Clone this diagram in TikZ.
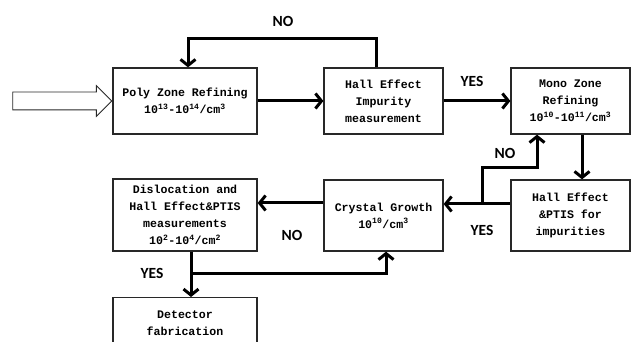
\documentclass[tikz,border=0pt]{standalone}
\usepackage{fontspec}
\usetikzlibrary{shapes, arrows.meta, positioning, calc}
\newfontfamily\boxfont{Liberation Mono}
\newfontfamily\labelfont{Carlito}
\definecolor{linegray}{RGB}{40, 40, 40}

\begin{document}
\begin{tikzpicture}[x=1pt, y=-1pt,
    stepbox/.style={draw=linegray, line width=1.3pt, align=center, inner sep=2pt,
      font=\boxfont\bfseries\fontsize{11.6}{17}\selectfont},
    flow/.style={line width=3pt, -{Straight Barb[length=6pt, width=15pt]}},
    answer/.style={font=\labelfont\bfseries\fontsize{15.5}{17}\selectfont}]
  \clip (0,0) rectangle (633,342);
  \fill[white] (0,0) rectangle (633,342);

  % Top row
  \node[stepbox, minimum width=144, minimum height=66] (poly) at (185, 101)
    {Poly Zone Refining\\10\textsuperscript{13}-10\textsuperscript{14}/cm\textsuperscript{3}};
  \node[stepbox, minimum width=119, minimum height=66] (hall) at (383.5, 101)
    {Hall Effect\\Impurity\\measurement};
  \node[stepbox, minimum width=119, minimum height=66] (mono) at (570.5, 101)
    {Mono Zone\\Refining\\10\textsuperscript{10}-10\textsuperscript{11}/cm\textsuperscript{3}};

  % Middle row
  \node[stepbox, minimum width=119, minimum height=71] (ptis) at (570.5, 215.5)
    {Hall Effect\\\&PTIS for\\impurities};
  \node[stepbox, minimum width=119, minimum height=71] (crystal) at (383.5, 215.5)
    {Crystal Growth\\10\textsuperscript{10}/cm\textsuperscript{3}};
  \node[stepbox, minimum width=144, minimum height=72] (disloc) at (185, 215)
    {Dislocation and\\Hall Effect\&PTIS\\measurements\\10\textsuperscript{2}-10\textsuperscript{4}/cm\textsuperscript{2}};

  % Bottom (cut off by the frame)
  \node[stepbox, minimum width=144, minimum height=52, anchor=north] (detector) at (185, 297)
    {Detector\\fabrication};

  % Input arrow
  \node[single arrow, draw=linegray, line width=0.8pt, fill=white, inner sep=8.5pt,
    single arrow head extend=6.5pt, minimum height=99, anchor=tip] (input) at (poly.west) {};

  % Connectors
  \draw[flow] (poly.east) -- (hall.west);
  \draw[flow] ([xshift=-7pt]hall.north) -- ++(0,-29) -| ([xshift=3pt]poly.north);
  \draw[flow] (hall.east) -- (mono.west);
  \draw[flow] ([xshift=11.5pt]mono.south) -- ([xshift=11.5pt]ptis.north);
  \draw[flow] ([yshift=11.5pt]ptis.west) -- ([yshift=11.5pt]crystal.east);
  \coordinate (retry) at (482, 204);
  \draw[flow] (retry) -- ++(0,-36) -| ([xshift=-33.5pt]mono.south);
  \draw[flow] ([yshift=12.5pt]crystal.west) -- ([yshift=12pt]disloc.east);
  \draw[flow] ([xshift=6pt]disloc.south) -- ([xshift=6pt]detector.north);
  \coordinate (regrow) at (191, 274);
  \draw[flow] (regrow) -| ([xshift=2.5pt]crystal.south);

  % Labels
  \node[answer] (no1) at (283, 21) {NO};
  \node[answer] (yes1) at (472, 81) {YES};
  \node[answer] (no2) at (505, 153) {NO};
  \node[answer] (yes2) at (482, 230) {YES};
  \node[answer] (no3) at (292, 235) {NO};
  \node[answer] (yes3) at (152, 273) {YES};
\end{tikzpicture}
\end{document}
